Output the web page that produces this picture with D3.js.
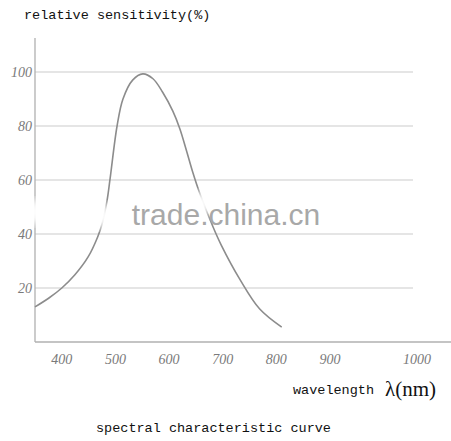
<!DOCTYPE html>
<html>
<head>
<meta charset="utf-8">
<script src="https://cdn.jsdelivr.net/npm/d3@7"></script>
<style>
body { margin: 0; background: #fff; }
.mono { font-family: "Liberation Mono", "DejaVu Sans Mono", monospace; fill: #111; }
.tick-lab { font-family: "Liberation Serif", serif; font-style: italic; fill: #7a7a7a; font-size: 14px; }
</style>
</head>
<body>
<div id="chart"></div>
<script>
// wavelength (nm) and relative sensitivity (%)
var wavelengths = [350, 376, 400, 424, 449, 467, 475, 484, 490, 503, 514, 532, 551, 570, 588, 607, 620, 633, 644, 657, 682, 697, 732, 769, 810];
var sensitivity = [13, 16.3, 20, 24.8, 31.5, 39, 43.7, 52, 60.5, 80, 90, 97, 99.3, 97.5, 92.5, 85.5, 79, 70.5, 63, 55.2, 42.6, 36, 23.2, 12.2, 5.5];

var xTicks = [400, 500, 600, 700, 800, 900, 1000];
var yTicks = [20, 40, 60, 80, 100];

var width = 451, height = 441;
var svg = d3.select("#chart").append("svg")
    .attr("width", width)
    .attr("height", height);

// axis in the picture is not evenly spaced at 1000
var x = d3.scaleLinear().domain([350, 900, 1000]).range([35, 330, 417]);
var y = d3.scaleLinear().domain([0, 100]).range([342, 72]);

// gridlines
svg.selectAll("line.grid").data(yTicks).enter().append("line")
    .attr("class", "grid")
    .attr("x1", 35).attr("x2", 413)
    .attr("y1", function(d) { return y(d); })
    .attr("y2", function(d) { return y(d); })
    .attr("stroke", "#dcdcdc")
    .attr("stroke-width", 1.6);

// axes lines
svg.append("line").attr("x1", 35).attr("x2", 35).attr("y1", 38).attr("y2", 342)
    .attr("stroke", "#b0b0b0").attr("stroke-width", 1.3);
svg.append("line").attr("x1", 35).attr("x2", 451).attr("y1", 342).attr("y2", 342)
    .attr("stroke", "#b0b0b0").attr("stroke-width", 1.3);

// tick labels
svg.selectAll("text.ylab").data(yTicks).enter().append("text")
    .attr("class", "tick-lab")
    .attr("x", 32)
    .attr("y", function(d) { return y(d) + 5; })
    .attr("text-anchor", "end")
    .text(function(d) { return d; });

svg.selectAll("text.xlab").data(xTicks).enter().append("text")
    .attr("class", "tick-lab")
    .attr("x", function(d) { return x(d); })
    .attr("y", 364)
    .attr("text-anchor", "middle")
    .text(function(d) { return d; });

// curve
var pts = wavelengths.map(function(w, i) { return [w, sensitivity[i]]; });
var line = d3.line()
    .x(function(d) { return x(d[0]); })
    .y(function(d) { return y(d[1]); })
    .curve(d3.curveCatmullRom.alpha(0.5));
svg.append("path")
    .datum(pts)
    .attr("d", line)
    .attr("fill", "none")
    .attr("stroke", "#8c8c8c")
    .attr("stroke-width", 1.6);

// watermark
var defs = svg.append("defs");
defs.append("filter").attr("id", "blur").append("feGaussianBlur").attr("stdDeviation", 4);
[[35, 212], [103, 216], [202, 204]].forEach(function(p) {
    svg.append("ellipse").attr("cx", p[0]).attr("cy", p[1]).attr("rx", 9).attr("ry", 13)
        .attr("fill", "#fff").attr("filter", "url(#blur)");
});
svg.append("text")
    .attr("x", 226).attr("y", 225)
    .attr("text-anchor", "middle")
    .attr("font-family", "Liberation Sans, Arial, sans-serif")
    .attr("font-size", 30)
    .attr("fill", "#a8a8a8")
    .text("trade.china.cn");

// titles
svg.append("text").attr("class", "mono").attr("x", 24).attr("y", 19)
    .attr("font-size", 13.5).text("relative sensitivity(%)");
svg.append("text").attr("class", "mono").attr("x", 293).attr("y", 394)
    .attr("font-size", 13.5).text("wavelength");
svg.append("text").attr("x", 385).attr("y", 396)
    .attr("font-family", "Liberation Serif, serif")
    .attr("font-size", 21).attr("fill", "#111").text("λ(nm)");
svg.append("text").attr("class", "mono").attr("x", 96).attr("y", 432)
    .attr("font-size", 13.5).text("spectral characteristic curve");
</script>
</body>
</html>
